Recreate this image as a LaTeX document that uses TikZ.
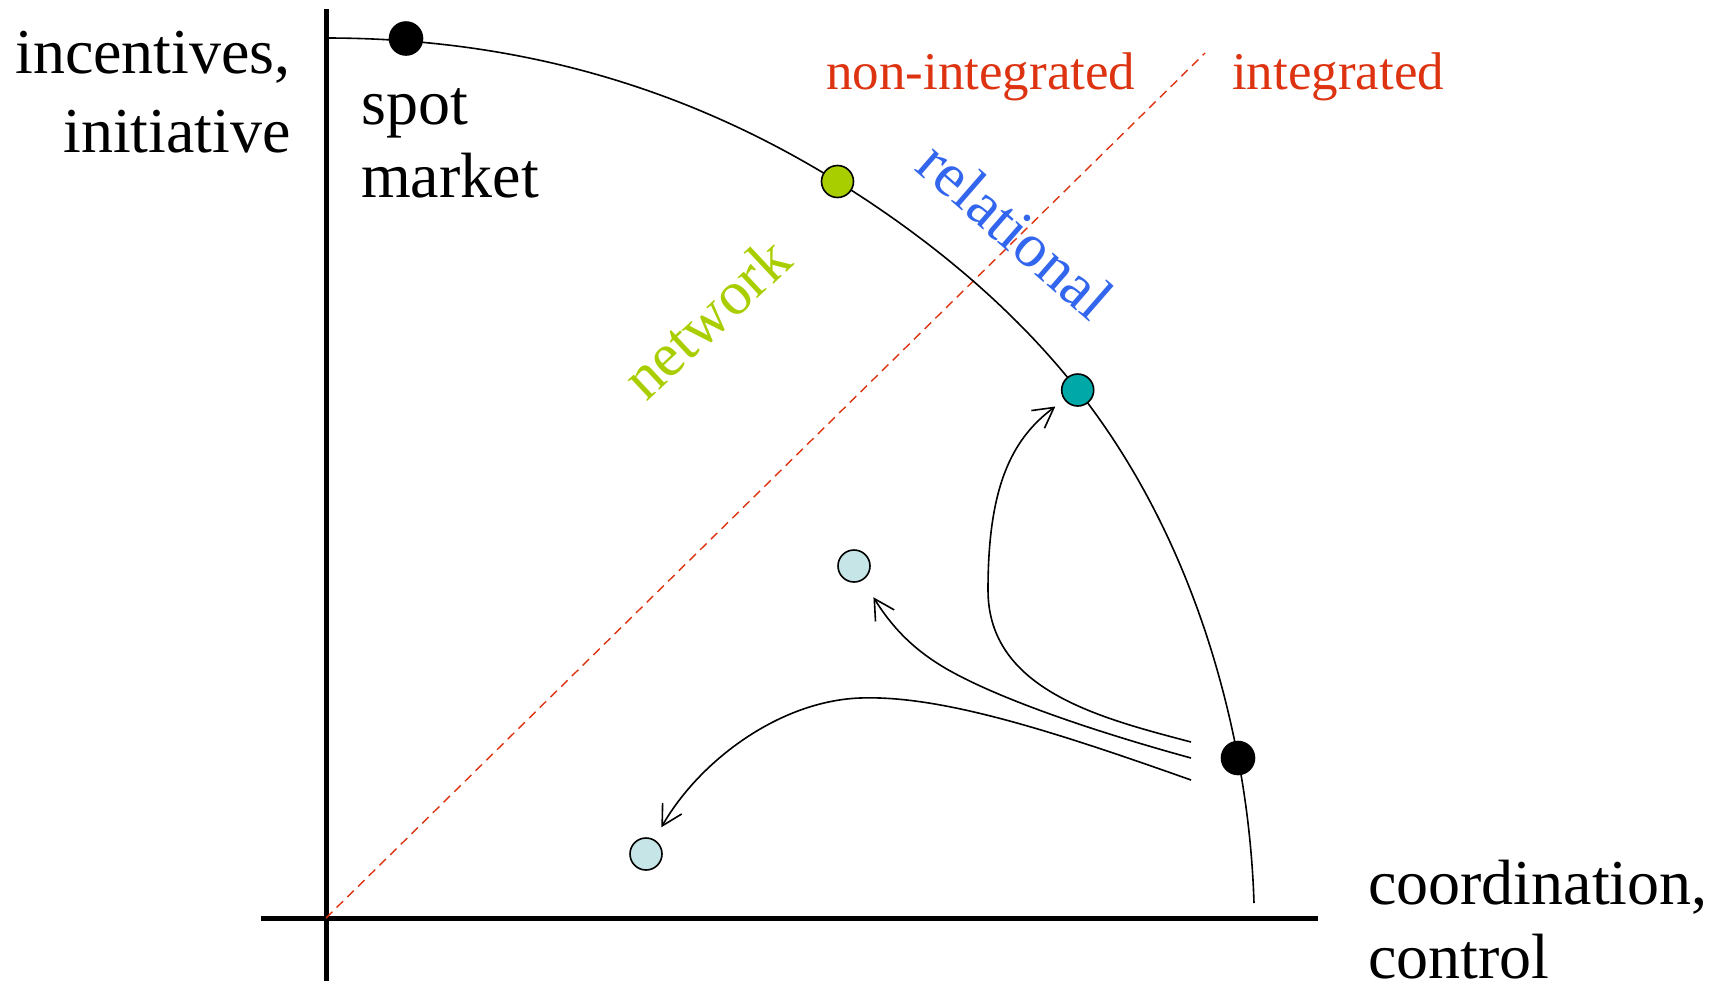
\documentclass[tikz,border=0pt]{standalone}
\usepackage{fontspec}
\setmainfont{Liberation Serif}
\usetikzlibrary{arrows.meta}
\definecolor{redline}{RGB}{221,51,17}
\definecolor{netgreen}{RGB}{168,206,0}
\definecolor{relblue}{RGB}{51,102,238}
\definecolor{tealdot}{RGB}{0,168,168}
\definecolor{lightdot}{RGB}{197,229,231}
\tikzset{
  axis/.style={line width=5pt},
  frontier/.style={line width=1.6pt},
  dot/.style={circle, draw=black, line width=1.6pt, inner sep=0pt, minimum size=32pt},
  bigtext/.style={inner sep=0pt, font=\fontsize{64}{77}\selectfont},
  redtext/.style={inner sep=0pt, text=redline, font=\fontsize{53}{64}\selectfont},
  diagtext/.style={inner sep=0pt, font=\fontsize{62}{74}\selectfont},
  move/.style={line width=1.6pt, -{Straight Barb[length=20pt,width=22pt]}},
  divider/.style={draw=redline, line width=1.4pt, dash pattern=on 9pt off 6pt}
}
\begin{document}
\begin{tikzpicture}[x=1pt,y=1pt]
\useasboundingbox (0,0) rectangle (1722,-986);
% axes
\coordinate (o) at (326,-918);
\coordinate (ytop) at (326,-9);
\coordinate (ybot) at (326,-981);
\coordinate (xl) at (261,-918);
\coordinate (xr) at (1318,-918);
\draw[axis] (ybot) -- (ytop);
\draw[axis] (xl) -- (xr);
% dashed divider
\coordinate (dtop) at (1205,-53);
\draw[divider] (o) -- (dtop);
% frontier curve
\coordinate (fs) at (326,-38);
\coordinate (fe) at (1254,-903);
\draw[frontier] (fs) .. controls (516,-38) and (684.5,-86.6) .. (837.5,-181.5)
  .. controls (927.5,-237.4) and (1012.1,-306.7) .. (1077.7,-390)
  .. controls (1161.3,-496) and (1212.8,-625.4) .. (1238,-758)
  .. controls (1247,-805) and (1252.5,-855) .. (fe);
% dots
\node[dot, fill=black, minimum size=33pt] (spot) at (406,-38.5) {};
\node[dot, fill=netgreen] (net) at (837.5,-181.5) {};
\node[dot, fill=tealdot] (rel) at (1077.7,-390) {};
\node[dot, fill=black, minimum size=33pt] (int) at (1238,-758) {};
\node[dot, fill=lightdot] (lbA) at (854,-566) {};
\node[dot, fill=lightdot] (lbB) at (646,-854) {};
% arrows
\coordinate (s1) at (1191,-742);
\coordinate (s2) at (1191,-758);
\coordinate (s3) at (1191,-780);
\draw[move, shorten >=11pt] (s1) .. controls (1100,-718) and (988,-690) .. (988,-590)
  .. controls (988,-490) and (1010,-440) .. (rel);
\draw[move, shorten >=20pt] (s2) .. controls (1100,-733) and (1000,-700) .. (945,-668)
  .. controls (918,-652) and (895,-632) .. (lbA);
\draw[move, shorten >=14pt] (s3) .. controls (1050,-730) and (940,-695) .. (860,-698)
  .. controls (780,-701) and (700,-760) .. (lbB);
% labels
\node[bigtext, anchor=base east] (lyA) at (291,-73) {incentives,};
\node[bigtext, anchor=base east] (lyB) at (291,-152) {initiative};
\node[bigtext, anchor=base west] (spA) at (361,-124) {spot};
\node[bigtext, anchor=base west] (spB) at (361,-197) {market};
\node[redtext, anchor=base west] (nonint) at (826,-89) {non-integrated};
\node[redtext, anchor=base west] (inte) at (1232,-89) {integrated};
\node[bigtext, anchor=base west] (lxA) at (1368,-904) {coordination,};
\node[bigtext, anchor=base west] (lxB) at (1368,-978) {control};
\node[diagtext, text=relblue, rotate=-41] (relt) at (1016,-230) {relational};
\node[diagtext, text=netgreen, rotate=43] (nett) at (706,-318) {network};
\end{tikzpicture}
\end{document}
